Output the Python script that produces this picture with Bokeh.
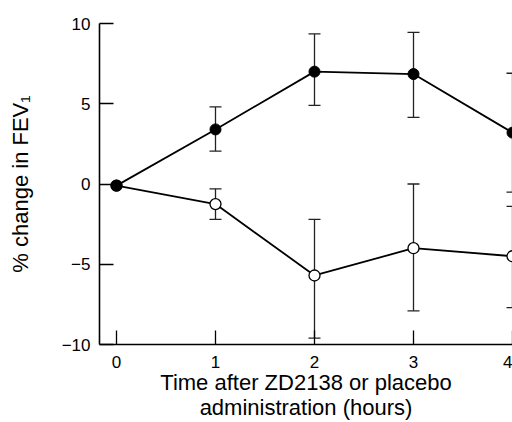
from bokeh.plotting import figure
from bokeh.models import ColumnDataSource, Whisker, TeeHead, Range1d, FixedTicker
from bokeh.embed import file_html
from bokeh.resources import INLINE

times = [0, 1, 2, 3, 4]
zd_mean = [-0.1, 3.4, 7.0, 6.85, 3.2]
zd_upper = [-0.1, 4.8, 9.35, 9.45, 6.9]
zd_lower = [-0.1, 2.05, 4.9, 4.15, -0.5]
pl_mean = [-0.1, -1.25, -5.7, -4.0, -4.5]
pl_upper = [-0.1, -0.3, -2.2, 0.0, -1.4]
pl_lower = [-0.1, -2.2, -9.6, -7.9, -7.7]

y_ticks = [-10, -5, 0, 5, 10]
y_tick_labels = ["\u221210", "\u22125", "0", "5", "10"]
x_ticks = [0, 1, 2, 3, 4]
x_label = "Time after ZD2138 or placebo\nadministration (hours)"
y_label = "% change in FEV\u2081"

FONT = "Liberation Sans"

p = figure(width=512, height=422, output_backend="svg", toolbar_location=None,
           x_range=Range1d(-0.1717, 4.0), y_range=Range1d(-10, 10),
           min_border_left=99, min_border_right=0, min_border_top=23, min_border_bottom=78)
p.outline_line_color = None
p.grid.visible = False
p.background_fill_color = "white"

pl_src = ColumnDataSource(dict(x=times, y=pl_mean, up=pl_upper, lo=pl_lower))
zd_src = ColumnDataSource(dict(x=times, y=zd_mean, up=zd_upper, lo=zd_lower))
pl_err = ColumnDataSource(dict(x=times[1:], up=pl_upper[1:], lo=pl_lower[1:]))
zd_err = ColumnDataSource(dict(x=times[1:], up=zd_upper[1:], lo=zd_lower[1:]))

for src in (pl_err, zd_err):
    w = Whisker(source=src, base="x", upper="up", lower="lo", dimension="height",
                line_color="#222222", line_width=1.3,
                upper_head=TeeHead(size=12, line_color="#222222", line_width=1.3),
                lower_head=TeeHead(size=12, line_color="#222222", line_width=1.3))
    p.add_layout(w)

p.line("x", "y", source=pl_src, line_color="black", line_width=1.8)
p.scatter("x", "y", source=pl_src, size=11, fill_color="white", line_color="black", line_width=1.3)
p.line("x", "y", source=zd_src, line_color="black", line_width=1.8)
p.scatter("x", "y", source=zd_src, size=11, fill_color="black", line_color="black")

p.yaxis.ticker = FixedTicker(ticks=y_ticks)
p.yaxis.major_label_overrides = {t: l for t, l in zip(y_ticks, y_tick_labels)}
p.xaxis.ticker = FixedTicker(ticks=x_ticks)

for ax in (p.xaxis, p.yaxis):
    ax.axis_line_width = 1.6
    ax.axis_line_color = "black"
    ax.major_tick_in = 14
    ax.major_tick_out = 0
    ax.major_tick_line_width = 1.3
    ax.minor_tick_line_color = None
    ax.major_label_text_font = FONT
    ax.major_label_text_font_size = "17px"
    ax.major_label_text_color = "black"
    ax.axis_label_text_font = FONT
    ax.axis_label_text_font_size = "22px"
    ax.axis_label_text_font_style = "normal"
    ax.axis_label_text_color = "black"

p.xaxis.major_label_standoff = 11
p.yaxis.major_label_standoff = 9
p.yaxis.axis_label = y_label
p.yaxis.axis_label_standoff = 26
p.xaxis.axis_label = x_label
p.xaxis.axis_label_standoff = -1
p.xaxis.axis_label_text_line_height = 1.0

open("out.html", "w").write(file_html(p, INLINE))
